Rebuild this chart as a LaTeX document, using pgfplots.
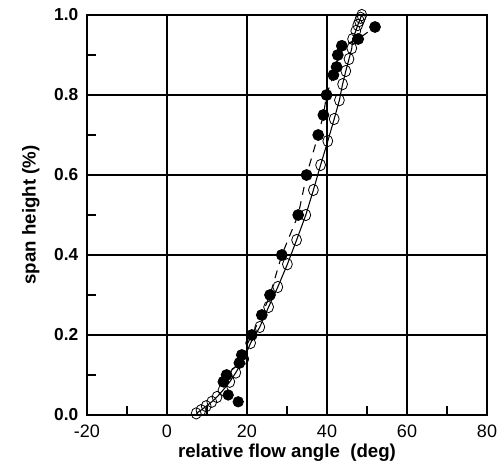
\documentclass[border=0pt]{standalone}
\usepackage{fontspec}
\setmainfont{Liberation Sans}
\usepackage{pgfplots}
\pgfplotsset{compat=1.18}
\begin{document}
\begin{tikzpicture}
\begin{axis}[
 scale only axis, width=300pt, height=300pt,
 xmin=-20, xmax=80, ymin=0, ymax=1,
 xtick={-20,0,20,40,60,80}, ytick={0,0.2,0.4,0.6,0.8,1},
 minor x tick num=1, minor y tick num=1,
 tick pos=left, tick align=inside,
 major tick length=0pt, minor tick length=7pt,
 grid=major, major grid style={black, line width=0.9pt},
 axis line style={line width=1.5pt},
 every tick/.style={black, line width=0.9pt},
 font=\fontsize{13.5}{15}\selectfont,
 /pgf/number format/assume math mode=true,
 xticklabel style={font=\fontsize{13.5}{15}\selectfont, yshift=-4pt},
 yticklabel style={font=\fontsize{13}{15}\selectfont\bfseries, xshift=-3pt, /pgf/number format/.cd, fixed, fixed zerofill, precision=1},
 xlabel={\bfseries relative flow angle\ \ (deg)},
 ylabel={\bfseries span height (\%)},
 xlabel style={font=\fontsize{14}{16}\selectfont, yshift=2pt},
 ylabel style={font=\fontsize{14}{16}\selectfont},
 ylabel shift=4pt,
 clip=false,
]
% open circles, solid line
\addplot[black, line width=0.8pt, mark=o, mark size=3.7pt, mark options={solid, line width=0.6pt, yscale=1.15}] coordinates {
(7.3,0.004) (8.5,0.012) (9.8,0.022) (11.2,0.033) (12.5,0.045) (14.0,0.062) (15.7,0.083) (17.2,0.106) (19.2,0.14) (20.9,0.18) (23.2,0.22) (25.4,0.27) (27.7,0.32) (30.1,0.377) (32.4,0.4375) (34.7,0.50) (36.6,0.5625) (38.4,0.625) (40.2,0.685) (41.8,0.74) (43.1,0.787) (43.9,0.827) (44.7,0.86) (45.5,0.89) (46.2,0.917) (46.4,0.94) (47.2,0.96) (47.7,0.975) (48.1,0.985) (48.4,0.993) (48.7,1.0)
};
% filled circles, dashed line
\addplot[black, line width=0.8pt, dashed, dash pattern=on 6pt off 5pt, mark=*, mark size=4pt, mark options={solid}] coordinates {
(14.1,0.083) (14.9,0.10) (18.1,0.13) (18.7,0.15) (21.2,0.20) (23.7,0.25) (25.75,0.30) (28.7,0.40) (32.8,0.50) (34.9,0.60) (37.8,0.70) (39.1,0.75) (39.9,0.80) (41.6,0.85) (42.4,0.87) (42.7,0.90) (43.7,0.923) (47.8,0.94) (52.0,0.97)
};
\addplot[only marks, black, mark=*, mark size=4pt] coordinates {
(17.8,0.033) (15.3,0.05)
};
\end{axis}
\pgfresetboundingbox
\path ([shift={(-65.25pt,-41.25pt)}]current axis.south west) rectangle ([shift={(9.75pt,11.25pt)}]current axis.north east);
\end{tikzpicture}
\end{document}
